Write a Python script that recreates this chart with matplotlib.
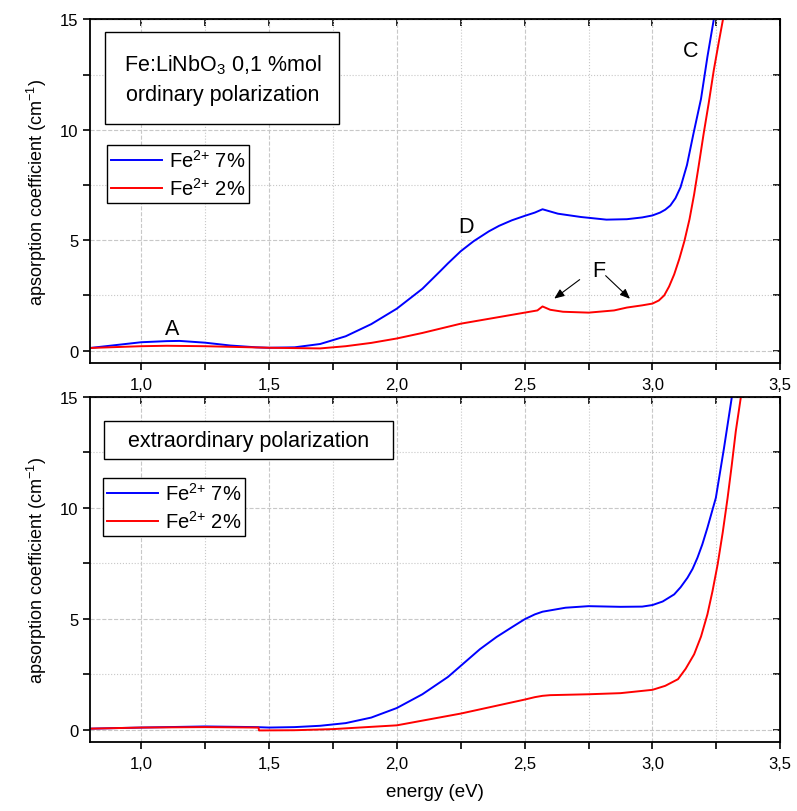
import matplotlib.pyplot as plt
from matplotlib.patches import Rectangle
from matplotlib.ticker import MultipleLocator, FuncFormatter

plt.rcParams['font.family'] = ['Liberation Sans', 'DejaVu Sans']
plt.rcParams['mathtext.default'] = 'regular'

# ordinary polarization
e_o_7 = [0.80, 0.90, 1.00, 1.10, 1.15, 1.25, 1.35, 1.45, 1.50, 1.60, 1.70, 1.80,
         1.90, 1.95, 2.00, 2.05, 2.10, 2.17, 2.20, 2.25, 2.30, 2.36, 2.40, 2.45,
         2.50, 2.54, 2.57, 2.60, 2.63, 2.72, 2.82, 2.90, 2.96, 3.00, 3.03, 3.05,
         3.07, 3.09, 3.11, 3.135, 3.16, 3.19, 3.215, 3.24, 3.25]
a_o_7 = [0.12, 0.25, 0.38, 0.43, 0.44, 0.36, 0.23, 0.15, 0.13, 0.15, 0.30, 0.65,
         1.20, 1.55, 1.90, 2.35, 2.80, 3.60, 3.95, 4.50, 4.95, 5.40, 5.65, 5.90,
         6.10, 6.25, 6.40, 6.30, 6.20, 6.05, 5.93, 5.95, 6.03, 6.12, 6.25, 6.38,
         6.57, 6.90, 7.40, 8.40, 9.80, 11.4, 13.3, 15.0, 15.8]

e_o_2 = [0.80, 1.00, 1.10, 1.25, 1.50, 1.70, 1.80, 1.90, 2.00, 2.10, 2.25, 2.40,
         2.50, 2.55, 2.57, 2.60, 2.65, 2.75, 2.85, 2.90, 2.96, 3.00, 3.025, 3.046,
         3.065, 3.085, 3.105, 3.125, 3.145, 3.163, 3.18, 3.20, 3.22, 3.24, 3.26,
         3.276, 3.29]
a_o_2 = [0.12, 0.20, 0.22, 0.20, 0.13, 0.10, 0.20, 0.35, 0.55, 0.80, 1.22, 1.52,
         1.72, 1.82, 2.00, 1.85, 1.76, 1.72, 1.82, 1.95, 2.05, 2.13, 2.27, 2.50,
         2.90, 3.45, 4.15, 4.96, 5.95, 7.07, 8.30, 9.80, 11.2, 12.7, 14.0,
         15.0, 16.0]

# extraordinary polarization
e_e_7 = [0.80, 1.00, 1.25, 1.45, 1.50, 1.60, 1.70, 1.80, 1.90, 2.00, 2.10, 2.20,
         2.25, 2.325, 2.39, 2.45, 2.50, 2.54, 2.57, 2.66, 2.75, 2.875, 2.96, 3.00,
         3.04, 3.085, 3.11, 3.137, 3.157, 3.176, 3.195, 3.215, 3.248, 3.28, 3.31,
         3.32]
a_e_7 = [0.05, 0.10, 0.15, 0.12, 0.10, 0.12, 0.18, 0.30, 0.55, 0.98, 1.60, 2.38,
         2.88, 3.63, 4.18, 4.62, 4.98, 5.20, 5.32, 5.50, 5.57, 5.54, 5.55, 5.62,
         5.78, 6.10, 6.42, 6.85, 7.25, 7.75, 8.35, 9.10, 10.45, 12.7, 14.95,
         15.8]

e_e_2 = [0.80, 1.00, 1.25, 1.459, 1.461, 1.60, 1.75, 2.00, 2.25, 2.50, 2.54, 2.57,
         2.60, 2.75, 2.875, 3.00, 3.05, 3.10, 3.13, 3.163, 3.19, 3.215, 3.235, 3.255,
         3.275, 3.294, 3.31, 3.326, 3.346, 3.36]
a_e_2 = [0.05, 0.10, 0.12, 0.10, -0.03, -0.02, 0.03, 0.20, 0.73, 1.36, 1.47, 1.53,
         1.56, 1.60, 1.65, 1.80, 1.98, 2.28, 2.75, 3.40, 4.20, 5.20, 6.25, 7.45,
         8.90, 10.45, 11.9, 13.45, 15.0, 16.0]

labels = ['Fe$^{2{+}}$ 7%', 'Fe$^{2{+}}$ 2%']

comma = FuncFormatter(lambda v, p: f'{v:.1f}'.replace('.', ','))
fs = 12
big = 15.5

fig = plt.figure(figsize=(7.97, 8.12), dpi=100)
ax1 = fig.add_axes([0.113, 0.552, 0.866, 0.423])
ax2 = fig.add_axes([0.113, 0.085, 0.866, 0.425])


def style(ax):
    ax.set_xlim(0.8, 3.5)
    ax.set_ylim(-0.55, 15)
    ax.xaxis.set_major_locator(MultipleLocator(0.5))
    ax.xaxis.set_minor_locator(MultipleLocator(0.25))
    ax.yaxis.set_major_locator(MultipleLocator(5))
    ax.yaxis.set_minor_locator(MultipleLocator(2.5))
    ax.xaxis.set_major_formatter(comma)
    ax.tick_params(which='both', direction='out', length=5, width=1.2,
                   labelsize=fs, colors='black')
    ax.tick_params(axis='x', pad=5)
    ax.grid(which='major', ls='--', color='#c8c8c8', lw=0.8)
    ax.grid(which='minor', ls=':', color='#c8c8c8', lw=0.8)
    ax.set_axisbelow(True)
    for s in ax.spines.values():
        s.set_linewidth(1.3)
    top = ax.secondary_xaxis('top')
    top.xaxis.set_major_locator(MultipleLocator(0.25))
    top.tick_params(direction='in', length=5, width=1.2, labeltop=False)
    right = ax.secondary_yaxis('right')
    right.yaxis.set_major_locator(MultipleLocator(2.5))
    right.tick_params(direction='in', length=5, width=1.2, labelright=False)
    ax.set_ylabel('apsorption coefficient (cm$^{-1}$)', fontsize=fs + 1, labelpad=8)


def framed(ax, x0, y0, x1, y1, text, ls=1.5):
    ax.add_patch(Rectangle((x0, y0), x1 - x0, y1 - y0, transform=ax.transAxes,
                           fc='white', ec='black', lw=1.0, zorder=4))
    ax.text((x0 + x1) / 2, (y0 + y1) / 2, text, transform=ax.transAxes,
            ha='center', va='center', fontsize=big, linespacing=ls, zorder=5)


for ax in (ax1, ax2):
    style(ax)

ax1.plot(e_o_7, a_o_7, color='#0000ff', lw=1.4, label=labels[0])
ax1.plot(e_o_2, a_o_2, color='#ff0000', lw=1.4, label=labels[1])
ax2.plot(e_e_7, a_e_7, color='#0000ff', lw=1.4, label=labels[0])
ax2.plot(e_e_2, a_e_2, color='#ff0000', lw=1.4, label=labels[1])

framed(ax1, 0.022, 0.695, 0.361, 0.962,
       'Fe:LiNbO$_3$ 0,1 %mol\nordinary polarization')
framed(ax2, 0.020, 0.820, 0.439, 0.930, 'extraordinary polarization')

for ax, loc in ((ax1, (0.025, 0.465)), (ax2, (0.019, 0.597))):
    leg = ax.legend(loc='lower left', bbox_to_anchor=loc, fontsize=14.5,
                    fancybox=False, framealpha=1, edgecolor='black',
                    handlelength=2.5, handletextpad=0.35, borderpad=0.2,
                    labelspacing=0.3, borderaxespad=0)
    leg.get_frame().set_linewidth(1.0)

# band labels
ax1.text(1.12, 1.0, 'A', fontsize=big, ha='center', va='center')
ax1.text(2.27, 5.6, 'D', fontsize=big, ha='center', va='center')
ax1.text(3.15, 13.6, 'C', fontsize=big, ha='center', va='center')
ax1.text(2.79, 3.65, 'F', fontsize=big, ha='center', va='center')
arrow = dict(arrowstyle='-|>,head_length=0.6,head_width=0.25', color='black', lw=0.8)
ax1.annotate('', xy=(2.607, 2.28), xytext=(2.724, 3.29), arrowprops=arrow)
ax1.annotate('', xy=(2.92, 2.26), xytext=(2.809, 3.48), arrowprops=arrow)

ax2.set_xlabel('energy (eV)', fontsize=fs + 1.5, labelpad=9)

fig.savefig('out.png', dpi=100)
